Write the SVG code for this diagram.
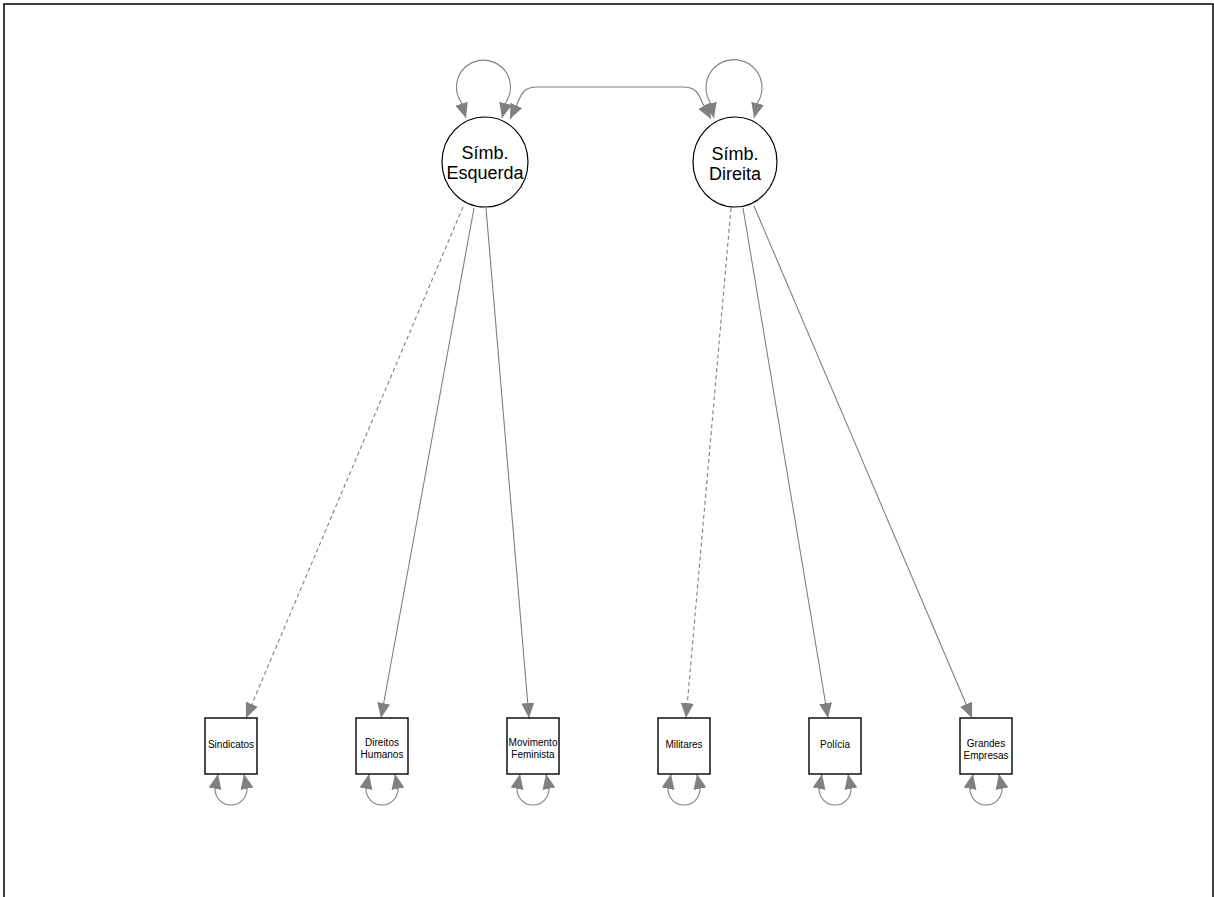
<svg xmlns="http://www.w3.org/2000/svg" width="1214" height="897" viewBox="0 0 1214 897">
<style>
.edge{fill:none;stroke:#808080;stroke-width:1.1}
.dash{stroke-dasharray:4,3}
.lat{fill:#fff;stroke:#000;stroke-width:1.2}
.man{fill:#fff;stroke:#000;stroke-width:1.4}
.lt{font-family:"Liberation Sans",Arial,sans-serif;font-size:18px;text-anchor:middle;fill:#000}
.mt{font-family:"Liberation Sans",Arial,sans-serif;font-size:10px;text-anchor:middle;fill:#000}
</style>
<defs>
<marker id="ah" markerUnits="userSpaceOnUse" markerWidth="15" markerHeight="13" refX="15" refY="6.5" orient="auto-start-reverse" viewBox="0 0 15 13">
<path d="M0,0 L15,6.5 L0,13 z" fill="#808080"/>
</marker>
</defs>
<rect x="4" y="4" width="1209" height="910" fill="#fff" stroke="#000" stroke-width="1.5"/>
<g id="connectors">
<path class="edge dash" d="M463,207 L246,718" marker-end="url(#ah)"/>
<path class="edge" d="M474,208 L381,718" marker-end="url(#ah)"/>
<path class="edge" d="M486,208 L529,718" marker-end="url(#ah)"/>
<path class="edge dash" d="M731,208 L686,718" marker-end="url(#ah)"/>
<path class="edge" d="M743,208 L828,718" marker-end="url(#ah)"/>
<path class="edge" d="M754,206 L972,718" marker-end="url(#ah)"/>
<path class="edge" d="M510,119 L517,104 C522,92 525,87 537,87 L683,87 C695,87 698,92 703,104 L711,119" marker-start="url(#ah)" marker-end="url(#ah)"/>
<path class="edge" d="M466,118 L461,102 A27,27 0 1 1 506,102 L502,118" marker-start="url(#ah)" marker-end="url(#ah)"/>
<path class="edge" d="M714,118 L710,102 A28,28 0 1 1 758,102 L754,118" marker-start="url(#ah)" marker-end="url(#ah)"/>
<path class="edge" d="M218,774 L215,789 A16,16 0 0 0 247,789 L244,774" marker-start="url(#ah)" marker-end="url(#ah)"/>
<path class="edge" d="M369,774 L366,789 A16,16 0 0 0 398,789 L395,774" marker-start="url(#ah)" marker-end="url(#ah)"/>
<path class="edge" d="M520,774 L517,789 A16,16 0 0 0 549,789 L546,774" marker-start="url(#ah)" marker-end="url(#ah)"/>
<path class="edge" d="M671,774 L668,789 A16,16 0 0 0 700,789 L697,774" marker-start="url(#ah)" marker-end="url(#ah)"/>
<path class="edge" d="M822,774 L819,789 A16,16 0 0 0 851,789 L848,774" marker-start="url(#ah)" marker-end="url(#ah)"/>
<path class="edge" d="M973,774 L970,789 A16,16 0 0 0 1002,789 L999,774" marker-start="url(#ah)" marker-end="url(#ah)"/>
</g>
<g id="simb_esquerda">
<ellipse class="lat" cx="485" cy="162" rx="43" ry="45"/>
<text class="lt" x="485" y="159">Símb.</text>
<text class="lt" x="485" y="179">Esquerda</text>
</g>
<g id="simb_direita">
<ellipse class="lat" cx="735" cy="162" rx="42" ry="45"/>
<text class="lt" x="735" y="160">Símb.</text>
<text class="lt" x="735" y="180">Direita</text>
</g>
<g id="sindicatos">
<rect class="man" x="205" y="718" width="52" height="56"/>
<text class="mt" x="231" y="748">Sindicatos</text>
</g>
<g id="direitos_humanos">
<rect class="man" x="356" y="718" width="52" height="56"/>
<text class="mt" x="382" y="745.5">Direitos</text>
<text class="mt" x="382" y="757.5">Humanos</text>
</g>
<g id="movimento_feminista">
<rect class="man" x="507" y="718" width="52" height="56"/>
<text class="mt" x="533" y="745.5">Movimento</text>
<text class="mt" x="533" y="757.5">Feminista</text>
</g>
<g id="militares">
<rect class="man" x="658" y="718" width="52" height="56"/>
<text class="mt" x="684" y="748">Militares</text>
</g>
<g id="policia">
<rect class="man" x="809" y="718" width="52" height="56"/>
<text class="mt" x="835" y="748">Polícia</text>
</g>
<g id="grandes_empresas">
<rect class="man" x="960" y="718" width="52" height="56"/>
<text class="mt" x="986" y="746.5">Grandes</text>
<text class="mt" x="986" y="758.5">Empresas</text>
</g>
</svg>
